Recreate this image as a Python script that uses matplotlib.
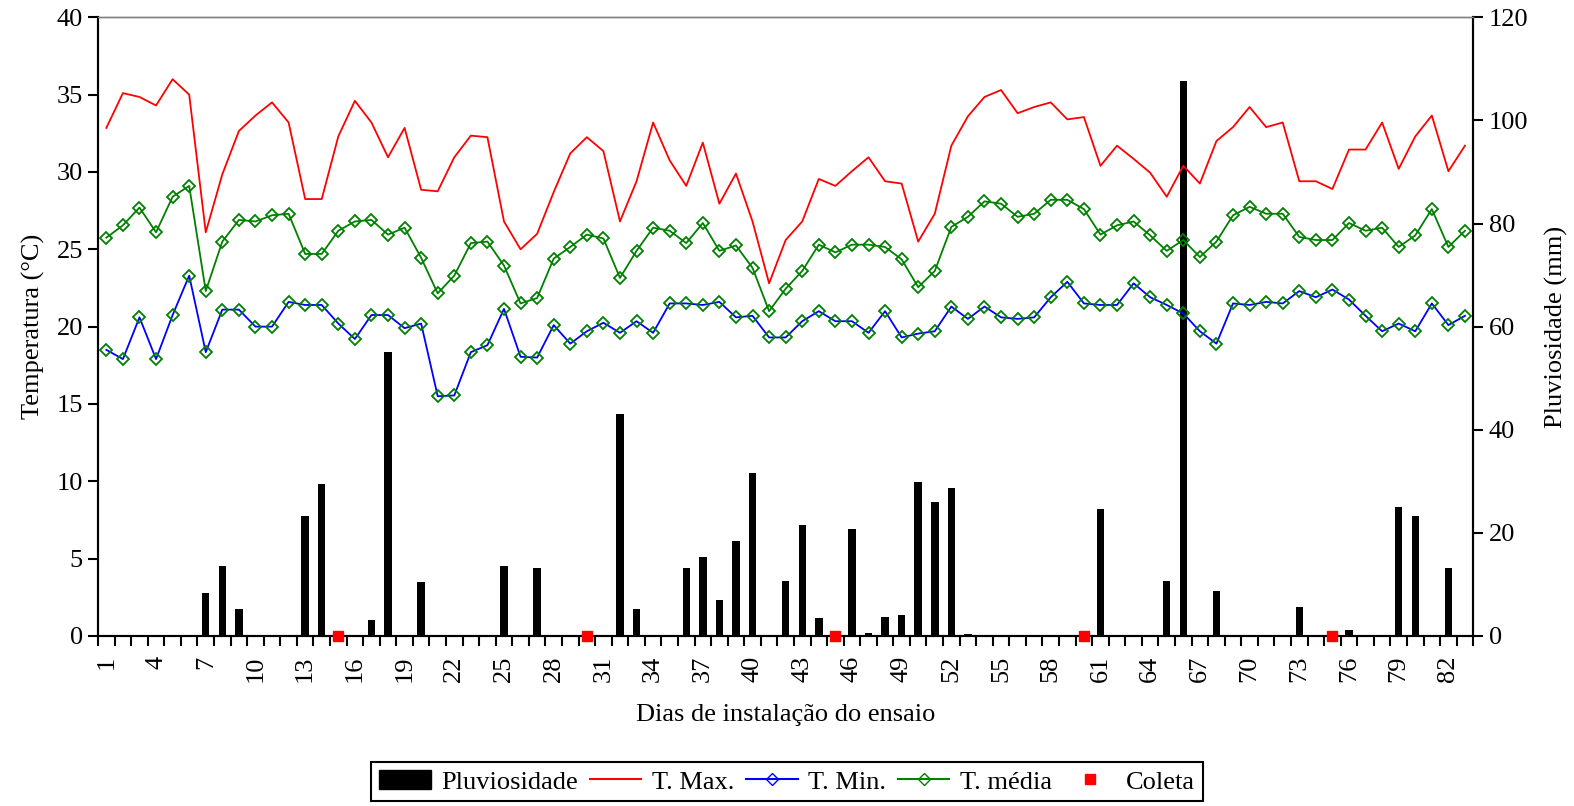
import matplotlib

matplotlib.use("Agg")
import matplotlib.pyplot as plt
from matplotlib.lines import Line2D
from matplotlib.patches import Patch
from matplotlib.ticker import FixedLocator, MultipleLocator

plt.rcParams["font.family"] = ["Liberation Serif", "DejaVu Serif"]
plt.rcParams["font.size"] = 19

# Dias 1..83
days = list(range(1, 84))

t_max = [32.85, 35.1, 34.85, 34.3, 36.0, 35.0, 26.1, 29.85, 32.65, 33.65,
         34.5, 33.2, 28.25, 28.25, 32.3, 34.6, 33.2, 30.95, 32.85, 28.85,
         28.75, 30.95, 32.35, 32.25, 26.8, 25.0, 26.0, 28.7, 31.2, 32.25,
         31.35, 26.8, 29.4, 33.2, 30.75, 29.1, 31.9, 27.95, 29.9, 26.8,
         22.8, 25.6, 26.8, 29.55, 29.1, 30.05, 30.95, 29.4, 29.25, 25.5,
         27.3, 31.7, 33.6, 34.85, 35.3, 33.8, 34.2, 34.5, 33.4, 33.55,
         30.4, 31.7, 30.85, 29.95, 28.4, 30.4, 29.25, 32.0, 32.9, 34.2,
         32.9, 33.2, 29.4, 29.4, 28.9, 31.45, 31.45, 33.2, 30.2, 32.3,
         33.65, 30.05, 31.7]

t_media = [25.75, 26.55, 27.7, 26.1, 28.4, 29.1, 22.3, 25.5, 26.9, 26.8,
           27.2, 27.3, 24.7, 24.7, 26.2, 26.8, 26.9, 25.95, 26.4, 24.45,
           22.15, 23.3, 25.4, 25.5, 23.95, 21.5, 21.85, 24.4, 25.15, 25.95,
           25.7, 23.15, 24.9, 26.4, 26.2, 25.4, 26.7, 24.9, 25.25, 23.8,
           21.0, 22.45, 23.6, 25.3, 24.8, 25.3, 25.3, 25.15, 24.35, 22.55,
           23.6, 26.45, 27.1, 28.1, 27.95, 27.1, 27.3, 28.2, 28.2, 27.6,
           25.95, 26.55, 26.8, 25.9, 24.9, 25.6, 24.5, 25.5, 27.2, 27.75,
           27.3, 27.3, 25.8, 25.6, 25.6, 26.7, 26.2, 26.4, 25.15, 25.9,
           27.6, 25.15, 26.2]

t_min = [18.5, 17.9, 20.6, 17.9, 20.75, 23.3, 18.35, 21.1, 21.1, 20.0,
         20.0, 21.6, 21.4, 21.4, 20.2, 19.2, 20.75, 20.75, 19.9, 20.2,
         15.5, 15.55, 18.35, 18.8, 21.15, 18.05, 18.0, 20.1, 18.9, 19.7,
         20.25, 19.6, 20.35, 19.6, 21.5, 21.5, 21.4, 21.6, 20.6, 20.7,
         19.3, 19.3, 20.35, 21.0, 20.35, 20.35, 19.6, 21.0, 19.3, 19.55,
         19.7, 21.3, 20.5, 21.3, 20.6, 20.5, 20.6, 21.9, 22.9, 21.5,
         21.4, 21.4, 22.8, 21.9, 21.4, 20.85, 19.7, 18.9, 21.5, 21.4,
         21.6, 21.5, 22.3, 21.9, 22.4, 21.75, 20.7, 19.7, 20.2, 19.7,
         21.5, 20.1, 20.7]

chuva = [0, 0, 0, 0, 0, 0, 8.4, 13.5, 5.3, 0,
         0, 0, 23.2, 29.4, 0, 0, 3.0, 55.1, 0, 10.4,
         0, 0, 0, 0, 13.5, 0, 13.1, 0, 0, 0,
         0, 43.0, 5.3, 0, 0, 13.1, 15.4, 6.9, 18.5, 31.7,
         0, 10.7, 21.6, 3.4, 0, 20.8, 0.65, 3.75, 4.1, 29.8,
         25.9, 28.6, 0.3, 0, 0, 0, 0, 0, 0, 0,
         24.7, 0, 0, 0, 10.7, 107.6, 0, 8.8, 0, 0,
         0, 0, 5.7, 0, 0, 1.1, 0, 0, 25.1, 23.2,
         0, 13.1, 0]

coleta_dias = [15, 30, 45, 60, 75]
coleta_valor = [0, 0, 0, 0, 0]

fig = plt.figure(figsize=(15.74, 8.06), dpi=100)
ax_rain = fig.add_axes([0.0623, 0.211, 0.8737, 0.7675])
ax_t = ax_rain.twinx()

# bars on the lower axes so the lines sit on top
ax_rain.bar(days, chuva, width=0.45, color="black", zorder=2)

ax_t.plot(days, t_max, color="red", lw=1.3)
ax_t.plot(days, t_min, color="blue", lw=1.3, marker="D", ms=6,
          mfc="none", mec="green", mew=1.3)
ax_t.plot(days, t_media, color="green", lw=1.3, marker="D", ms=6,
          mfc="none", mec="green", mew=1.3)
ax_t.plot(coleta_dias, coleta_valor, ls="none", marker="s", ms=7,
          color="red", clip_on=False, zorder=5)

# swap sides: temperature on the left, rainfall on the right
ax_t.yaxis.tick_left()
ax_t.yaxis.set_label_position("left")
ax_rain.yaxis.tick_right()
ax_rain.yaxis.set_label_position("right")

ax_t.set_ylim(0, 40)
ax_t.yaxis.set_major_locator(MultipleLocator(5))
ax_rain.set_ylim(0, 120)
ax_rain.yaxis.set_major_locator(MultipleLocator(20))
ax_rain.set_xlim(0.5, 83.5)

ax_t.set_ylabel("Temperatura (°C)", labelpad=8)
ax_rain.set_ylabel("Pluviosidade (mm)", labelpad=12)
ax_rain.set_xlabel("Dias de instalação do ensaio", labelpad=16)

ax_rain.xaxis.set_major_locator(FixedLocator(days[::3]))
ax_rain.set_xticklabels([str(d) for d in days[::3]], rotation=90)
ax_rain.xaxis.set_minor_locator(FixedLocator([d + 0.5 for d in range(0, 84)]))
ax_rain.tick_params(axis="x", which="major", length=0, pad=14)
ax_rain.tick_params(axis="x", which="minor", length=7, width=1.5, direction="out")

for a in (ax_rain, ax_t):
    a.tick_params(axis="y", length=7, width=1.5, direction="out", pad=4)
    for side in ("left", "right", "bottom"):
        a.spines[side].set_linewidth(1.5)
    a.spines["top"].set_color("#808080")
    a.spines["top"].set_linewidth(1.0)

handles = [
    Patch(facecolor="black", edgecolor="black"),
    Line2D([], [], color="red", lw=1.5),
    Line2D([], [], color="blue", lw=1.5, marker="D", ms=6, mfc="none", mec="blue"),
    Line2D([], [], color="green", lw=1.5, marker="D", ms=6, mfc="none", mec="green"),
    Line2D([], [], ls="none", marker="s", ms=7, color="red"),
]
labels = ["Pluviosidade", "T. Max.", "T. Min.", "T. média", "Coleta"]
leg = fig.legend(handles, labels, loc="center", bbox_to_anchor=(0.5, 0.030),
                 ncol=5, frameon=True, fancybox=False, edgecolor="black",
                 framealpha=1, handlelength=1.95, columnspacing=0.45,
                 handletextpad=0.4, borderpad=0.3, borderaxespad=0)
leg.get_frame().set_linewidth(1.5)

fig.savefig("out.png", dpi=100)
plt.close(fig)
